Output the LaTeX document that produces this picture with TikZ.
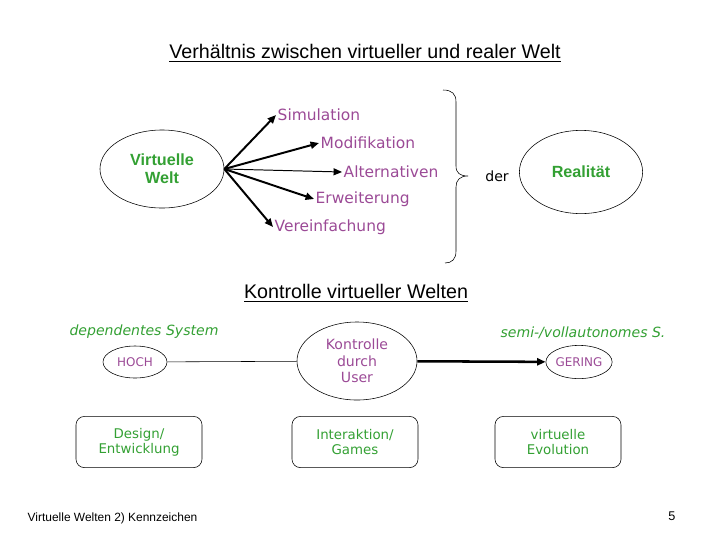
\documentclass[tikz,border=0pt]{standalone}
\usepackage{fontspec}
\setmainfont{DejaVu Sans}
\newfontfamily\arialfont{Liberation Sans}
\usetikzlibrary{arrows.meta, positioning, shapes.geometric}
\definecolor{vwgreen}{HTML}{33A033}
\definecolor{vwpurple}{HTML}{9B4A96}

\begin{document}
\begin{tikzpicture}[
  x=0.025cm, y=-0.025cm,
  every node/.style={inner sep=1pt},
  weltnode/.style={ellipse, draw, thin, inner sep=0pt, minimum width=3.1cm, minimum height=1.95cm, align=center, text=vwgreen, font=\arialfont\bfseries\fontsize{11.5}{13}\selectfont},
  labelnode/.style={anchor=west, text=vwpurple, font=\fontsize{11}{13}\selectfont},
  gradnode/.style={ellipse, draw, thin, inner sep=0pt, minimum width=1.6cm, minimum height=0.8cm, text=vwpurple, font=\fontsize{8.5}{10}\selectfont},
  boxnode/.style={rectangle, draw, thin, rounded corners=6pt, minimum width=3.15cm, minimum height=1.28cm, align=center, text=vwgreen, font=\fontsize{9.5}{10.7}\selectfont},
  sysnode/.style={text=vwgreen, font=\itshape\fontsize{10}{12}\selectfont},
  titlenode/.style={font=\arialfont\fontsize{14}{16}\selectfont},
  pfeil/.style={-{Triangle[length=6pt,width=5pt]}, line width=1.4pt},
]
\useasboundingbox (0,0) rectangle (720,540);

% Upper part: virtual vs. real world
\node[titlenode] (title1) at (365,53) {\underline{Verhältnis zwischen virtueller und realer Welt}};

\node[weltnode] (vw) at (162,169) {Virtuelle\\Welt};

\node[labelnode] (sim) at (276,115) {Simulation};
\node[labelnode] (mod) at (319,143) {Modifikation};
\node[labelnode] (alt) at (342,172) {Alternativen};
\node[labelnode] (erw) at (314,199) {Erweiterung};
\node[labelnode] (ver) at (273,227) {Vereinfachung};

\draw[pfeil] (vw.east) -- (sim.west);
\draw[pfeil] (vw.east) -- (mod.west);
\draw[pfeil, line width=0.7pt] (vw.east) -- (alt.west);
\draw[pfeil] (vw.east) -- (erw.west);
\draw[pfeil] (vw.east) -- (ver.west);

% brace
\draw[thin] (443,90) .. controls (452,90) and (456,94) .. (456,102) -- (456,166)
  .. controls (456,173) and (460,176) .. (468,176)
  .. controls (460,176) and (456,180) .. (456,187) -- (456,251)
  .. controls (456,259) and (452,263) .. (445,263);

\node[font=\fontsize{10}{12}\selectfont] (der) at (497,176) {der};
\node[weltnode, minimum width=3.08cm, minimum height=2.08cm] (real) at (581,172) {Realität};

% Lower part: control of virtual worlds
\node[titlenode] (title2) at (356,293) {\underline{Kontrolle virtueller Welten}};

\node[sysnode] (dep) at (144,332) {dependentes System};
\node[sysnode] (semi) at (583,333) {semi-/vollautonomes S.};

\node[gradnode] (hoch) at (135,362) {HOCH};
\node[ellipse, draw, thin, inner sep=0pt, minimum width=3cm, minimum height=1.95cm, align=center, text=vwpurple, font=\fontsize{10}{11.7}\selectfont] (kon) at (357,361) {Kontrolle\\durch\\User};
\node[gradnode, minimum height=0.83cm] (gering) at (579,362) {GERING};

\draw[thin] (hoch) -- (kon);
\draw[-{Triangle[length=6pt,width=5pt]}, line width=1.8pt] (kon) -- (gering);

\node[boxnode] (design) at (139,442) {Design/\\Entwicklung};
\node[boxnode] (inter) at (355,442) {Interaktion/\\Games};
\node[boxnode] (evo) at (558,442) {virtuelle\\Evolution};

% footer
\node[anchor=west, font=\arialfont\fontsize{8.5}{10}\selectfont] (foot) at (26,518) {Virtuelle Welten 2) Kennzeichen};
\node[font=\arialfont\fontsize{9}{10}\selectfont] (page) at (672,516) {5};

\end{tikzpicture}
\end{document}
